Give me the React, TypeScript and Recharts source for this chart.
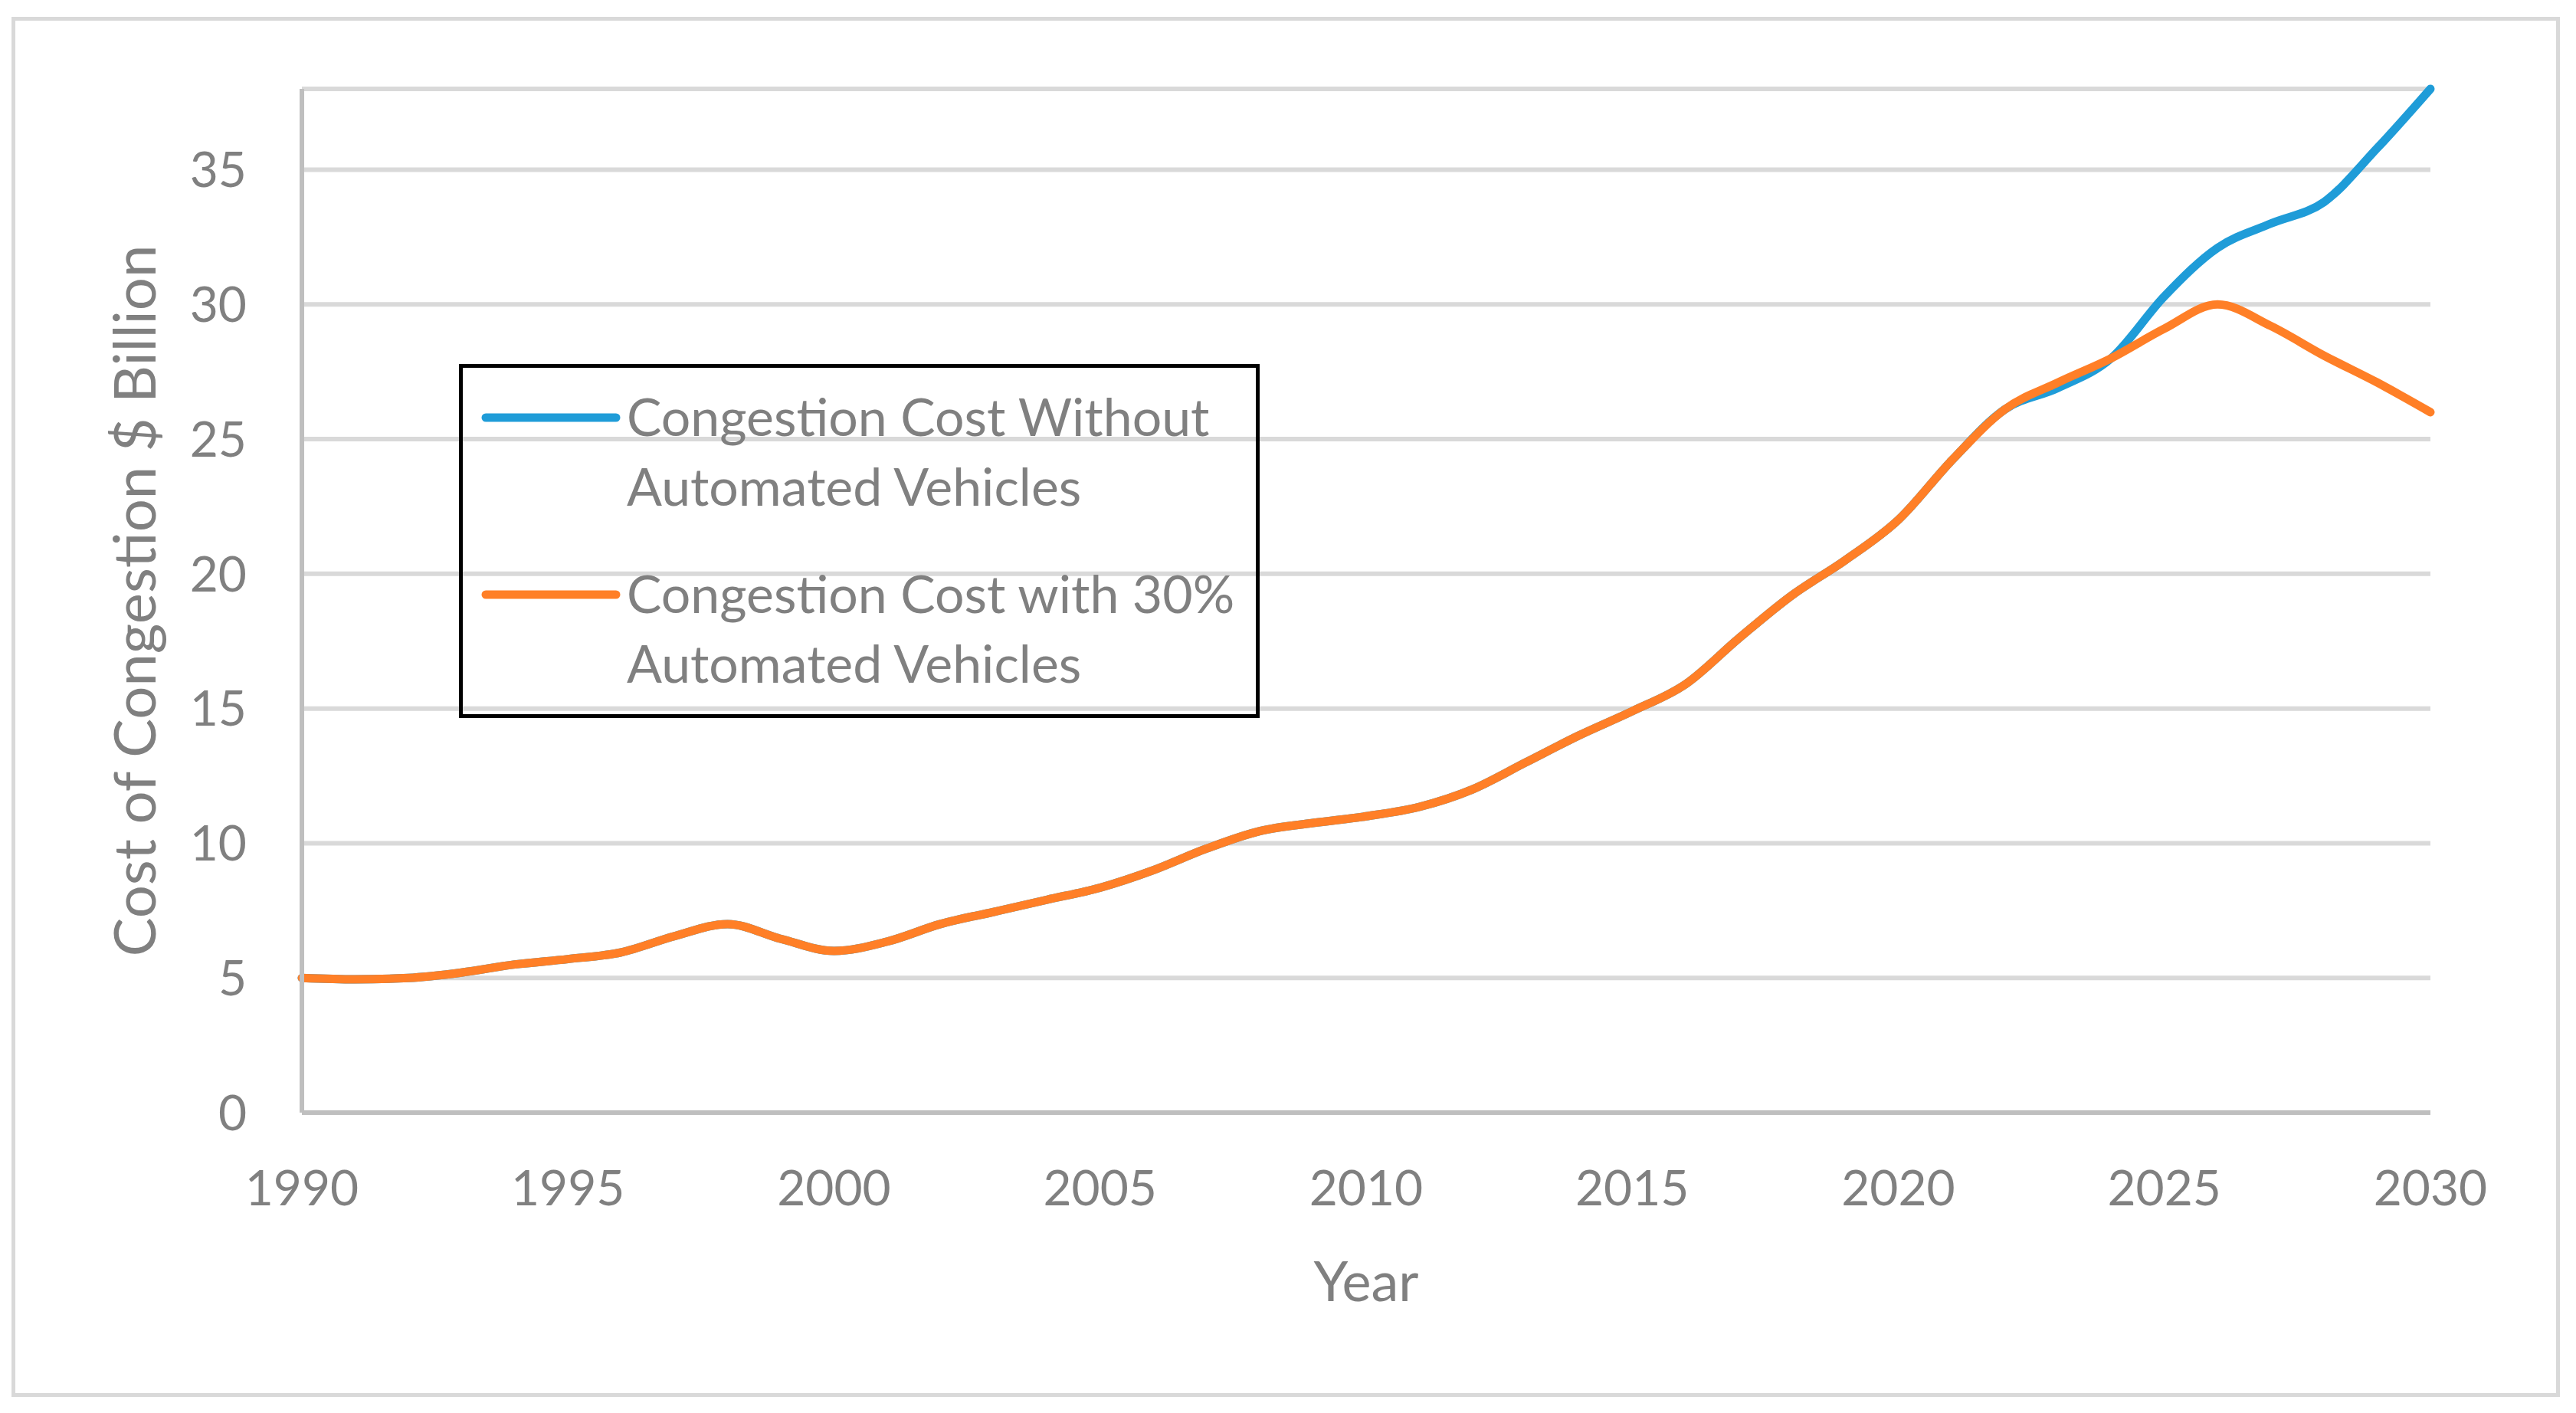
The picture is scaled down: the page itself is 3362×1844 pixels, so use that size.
import { LineChart, Line, XAxis, YAxis, CartesianGrid, Legend } from 'recharts';

const YEARS = [
  1990, 1991, 1992, 1993, 1994, 1995, 1996, 1997, 1998, 1999,
  2000, 2001, 2002, 2003, 2004, 2005, 2006, 2007, 2008, 2009,
  2010, 2011, 2012, 2013, 2014, 2015, 2016, 2017, 2018, 2019,
  2020, 2021, 2022, 2023, 2024, 2025, 2026, 2027, 2028, 2029, 2030,
];

// $ billion
const WITHOUT_AV = [
  5.0, 4.95, 5.0, 5.2, 5.5, 5.7, 5.95, 6.55, 7.0, 6.45,
  6.0, 6.35, 7.0, 7.45, 7.9, 8.35, 9.0, 9.8, 10.45, 10.75,
  11.0, 11.35, 12.0, 13.0, 14.0, 14.9, 15.9, 17.6, 19.2, 20.5,
  22.0, 24.2, 26.1, 26.9, 28.0, 30.3, 32.1, 33.0, 33.8, 35.8, 38.0,
];

const WITH_30_AV = [
  5.0, 4.95, 5.0, 5.2, 5.5, 5.7, 5.95, 6.55, 7.0, 6.45,
  6.0, 6.35, 7.0, 7.45, 7.9, 8.35, 9.0, 9.8, 10.45, 10.75,
  11.0, 11.35, 12.0, 13.0, 14.0, 14.9, 15.9, 17.6, 19.2, 20.5,
  22.0, 24.2, 26.1, 27.1, 28.0, 29.1, 30.0, 29.2, 28.1, 27.1, 26.0,
];

const X_TICKS = [1990, 1995, 2000, 2005, 2010, 2015, 2020, 2025, 2030];
const Y_TICKS = [0, 5, 10, 15, 20, 25, 30, 35];

const SERIES = [
  { key: 'without', name: 'Congestion Cost Without Automated Vehicles', color: '#1f9cd8' },
  { key: 'with30', name: 'Congestion Cost with 30% Automated Vehicles', color: '#ff7f27' },
];

const data = YEARS.map((year, i) => ({
  year,
  without: WITHOUT_AV[i],
  with30: WITH_30_AV[i],
}));

const FONT = 'Lato, "Open Sans", sans-serif';
const GREY = '#808080';

function LegendBox({ payload }: any) {
  if (!payload) return null;
  return (
    <svg width={1045} height={462} style={{ display: 'block', overflow: 'visible' }}>
      <rect x={2.5} y={2.5} width={1040} height={457} fill="none" stroke="#000" strokeWidth={5} />
      {payload.map((p: any, i: number) => {
        const lines = String(p.value).replace(' Automated', '\nAutomated').split('\n');
        const off = i * 231;
        return (
          <g key={p.value}>
            <line x1={35} x2={205} y1={70 + off} y2={70 + off} stroke={p.color} strokeWidth={11} strokeLinecap="round" />
            <text x={219} fill={GREY} fontSize={68} fontFamily={FONT}>
              {lines.map((t, j) => (
                <tspan key={j} x={219} y={94 + off + j * 91}>{t}</tspan>
              ))}
            </text>
          </g>
        );
      })}
    </svg>
  );
}

export default function App() {
  return (
    <div style={{ position: 'absolute', left: 0, top: 0, width: 3362, height: 1844, background: '#fff' }}>
      <div
        style={{
          position: 'absolute', left: 15, top: 22, width: 3326, height: 1801,
          border: '5px solid #d9d9d9', boxSizing: 'border-box',
        }}
      />
      <div style={{ position: 'absolute', left: 0, top: 0 }}>
        <LineChart width={3362} height={1844} data={data} margin={{ top: 116, right: 190, bottom: 0, left: 0 }}>
          <CartesianGrid vertical={false} stroke="#d9d9d9" strokeWidth={6} />
          <XAxis
            dataKey="year"
            type="number"
            domain={[1990, 2030]}
            ticks={X_TICKS}
            height={392}
            stroke="#bfbfbf"
            strokeWidth={6}
            tickLine={false}
            tickSize={0}
            tickMargin={76}
            tick={{ fill: GREY, fontSize: 64, fontFamily: FONT }}
            label={{
              content: (props: any) => {
                const vb = props.viewBox;
                return (
                  <text x={vb.x + vb.width / 2} y={1698} textAnchor="middle" fill={GREY} fontSize={72} fontFamily={FONT}>
                    Year
                  </text>
                );
              },
            }}
          />
          <YAxis
            type="number"
            domain={[0, 38]}
            ticks={Y_TICKS}
            width={394}
            stroke="#bfbfbf"
            strokeWidth={6}
            tickLine={false}
            tickSize={0}
            tickMargin={72}
            tick={{ fill: GREY, fontSize: 64, fontFamily: FONT }}
            label={{
              content: (props: any) => {
                const vb = props.viewBox;
                const cy = vb.y + vb.height / 2;
                return (
                  <text
                    x={203}
                    y={cy}
                    transform={`rotate(-90, 203, ${cy})`}
                    textAnchor="middle"
                    fill={GREY}
                    fontSize={76}
                    fontFamily={FONT}
                  >
                    Cost of Congestion $ Billion
                  </text>
                );
              },
            }}
          />
          <Legend
            layout="vertical"
            align="center"
            verticalAlign="middle"
            content={<LegendBox />}
            wrapperStyle={{ position: 'absolute', left: 599, top: 475, width: 1045, height: 462 }}
          />
          {SERIES.map((s) => (
            <Line
              key={s.key}
              dataKey={s.key}
              name={s.name}
              type="monotone"
              stroke={s.color}
              strokeWidth={11}
              dot={false}
              activeDot={false}
              isAnimationActive={false}
              strokeLinecap="round"
            />
          ))}
        </LineChart>
      </div>
    </div>
  );
}
